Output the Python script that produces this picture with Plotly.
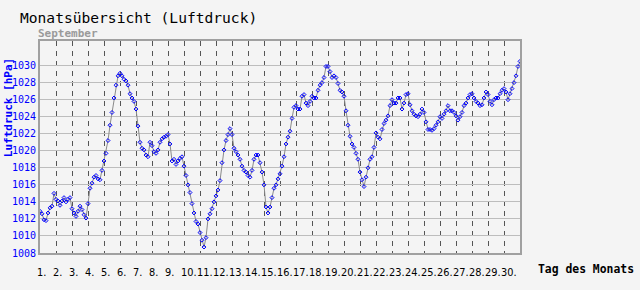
import plotly.graph_objects as go

# Pressure readings every 3 hours (day offset 0 = 1 Sept 00:00), hPa
step_days = 0.125
pressure_days_1_8 = [
    1012.9, 1012.6, 1011.9, 1011.8, 1012.7, 1013.3, 1013.5, 1015.0,
    1014.3, 1014.1, 1013.6, 1014.1, 1014.5, 1014.0, 1014.3, 1014.5,
    1013.2, 1012.7, 1012.3, 1012.9, 1013.5, 1013.1, 1012.5, 1012.1,
    1013.8, 1015.6, 1016.2, 1016.9, 1017.1, 1016.7, 1016.6, 1017.7,
    1018.8, 1019.7, 1021.2, 1023.0, 1024.5, 1026.2, 1027.7, 1028.8,
    1029.1, 1028.8, 1028.4, 1028.2, 1027.7, 1026.7, 1026.2, 1025.8,
    1024.9, 1022.9, 1021.0, 1020.3, 1020.1, 1019.5, 1019.3, 1021.0,
    1020.6, 1019.9, 1019.7, 1020.1,
]
pressure_days_8_15 = [
    1021.0, 1021.4, 1021.6, 1021.7, 1021.9, 1020.8, 1018.8, 1019.0,
    1018.4, 1018.8, 1019.1, 1019.3, 1018.2, 1017.1, 1016.0, 1015.1,
    1013.8, 1012.7, 1011.7, 1011.4, 1010.4, 1009.5, 1008.7, 1009.8,
    1012.0, 1012.6, 1013.2, 1014.0, 1014.7, 1015.4, 1016.5, 1018.6,
    1020.1, 1021.2, 1021.9, 1022.6, 1021.9, 1020.3, 1019.9, 1019.5,
    1019.0, 1018.2, 1017.7, 1017.5, 1017.1, 1016.9, 1017.7, 1019.0,
    1019.5, 1019.5, 1018.6, 1017.5, 1016.0, 1013.4, 1012.7, 1013.4,
    1014.5, 1015.6, 1016.0, 1016.7,
]
pressure_days_16_23 = [
    1017.3, 1018.2, 1019.3, 1020.8, 1021.6, 1022.3, 1023.8, 1025.1,
    1025.3, 1024.9, 1024.9, 1026.4, 1026.6, 1025.6, 1025.3, 1025.8,
    1026.4, 1026.2, 1026.2, 1027.1, 1027.7, 1028.0, 1028.6, 1029.9,
    1029.9, 1029.3, 1028.6, 1028.8, 1028.6, 1027.9, 1027.1, 1026.9,
    1026.4, 1024.7, 1023.0, 1021.7, 1020.8, 1020.4, 1019.7, 1019.0,
    1017.5, 1016.6, 1015.8, 1016.9, 1018.0, 1019.0, 1019.3, 1020.4,
    1022.1, 1021.6, 1021.4, 1022.5, 1023.2, 1023.6, 1024.1, 1025.3,
    1026.0, 1025.6, 1025.6, 1026.2,
]
pressure_days_23_30 = [
    1026.2, 1024.9, 1025.6, 1026.6, 1026.7, 1025.4, 1024.7, 1024.3,
    1024.1, 1024.0, 1024.3, 1024.9, 1024.5, 1023.4, 1022.5, 1022.5,
    1022.4, 1022.6, 1023.0, 1023.4, 1024.0, 1023.8, 1024.3, 1024.7,
    1025.3, 1024.7, 1024.7, 1024.5, 1024.1, 1023.6, 1024.0, 1024.5,
    1025.3, 1025.6, 1026.2, 1026.6, 1026.7, 1026.2, 1025.8, 1025.6,
    1025.3, 1025.4, 1026.2, 1026.9, 1026.6, 1025.8, 1025.4, 1026.0,
    1026.2, 1026.2, 1026.7, 1027.1, 1027.3, 1026.9, 1026.0, 1026.7,
    1027.3, 1028.0, 1028.8, 1029.9, 1030.5,
]
pressure = pressure_days_1_8 + pressure_days_8_15 + pressure_days_16_23 + pressure_days_23_30
days = [i * step_days for i in range(len(pressure))]

day_labels = [f"{d}." for d in range(1, 31)]
y_ticks = list(range(1008, 1031, 2))

# geometry (pixels)
L, R, T, B = 40, 520, 41, 265
W, H = 640, 290
px_per_day = (R - L) / 30.0
xtick_size = 9.8
digit_w = xtick_size * 0.636
dot_w = xtick_size * 0.318


def px(xp):
    return (xp - L) / (R - L)


def py(yp):
    return (B - yp) / (B - T)


def label_w(lbl):
    return sum(dot_w if c == "." else digit_w for c in lbl)


tick_pos = [i + (label_w(lbl) / 2 - 3) / px_per_day for i, lbl in enumerate(day_labels)]

fig = go.Figure()
fig.add_trace(go.Scatter(
    x=days, y=pressure, mode="lines+markers",
    line=dict(color="#8a8a8a", width=1),
    marker=dict(symbol="diamond-open", size=3, color="#0000ff", line=dict(color="#0000ff", width=1)),
    hoverinfo="skip", showlegend=False,
))

mono = "DejaVu Sans Mono"
fig.update_layout(
    width=W, height=H,
    margin=dict(l=L, r=W - R, t=T, b=H - B, pad=0),
    paper_bgcolor="#f4f4f4", plot_bgcolor="#f4f4f4",
    xaxis=dict(
        range=[0, 30], tickmode="array", tickvals=tick_pos, ticktext=day_labels,
        tickangle=0, showgrid=False, zeroline=False, ticks="", ticklen=0,
        ticklabelstandoff=9,
        tickfont=dict(family="DejaVu Sans", size=xtick_size, color="#000000"),
        showline=True, mirror=True, linecolor="#a0a0a0", linewidth=2,
        minor=dict(tickmode="array", tickvals=list(range(1, 30)), showgrid=True,
                   gridcolor="#555555", gridwidth=1, griddash="5px,5px", ticks=""),
    ),
    yaxis=dict(
        range=[1008, 1008 + (B - T) / 9.0], tickmode="array", tickvals=y_ticks,
        ticktext=[str(v) for v in y_ticks], showgrid=True, gridcolor="#bdbdbd",
        gridwidth=1, zeroline=False, ticks="", ticklen=0,
        tickfont=dict(family=mono, size=10, color="#0000ff"),
        showline=True, mirror=True, linecolor="#a0a0a0", linewidth=2,
    ),
    annotations=[
        dict(text="Monatsübersicht (Luftdruck)", xref="paper", yref="paper",
             x=px(19), y=py(16.5), xanchor="left", yanchor="middle", showarrow=False,
             borderpad=0, font=dict(family=mono, size=14.6, color="#000000")),
        dict(text="<b>September</b>", xref="paper", yref="paper",
             x=px(37), y=py(33), xanchor="left", yanchor="middle", showarrow=False,
             borderpad=0, font=dict(family=mono, size=11, color="#9a9a9a")),
        dict(text="<b>Tag des Monats</b>", xref="paper", yref="paper",
             x=px(536), y=py(282), xanchor="left", yanchor="middle", showarrow=False,
             font=dict(family=mono, size=11.4, color="#000000")),
        dict(text="<b>Luftdruck [hPa]</b>", xref="paper", yref="paper",
             x=px(8), y=py(112), xanchor="center", yanchor="middle", showarrow=False,
             textangle=-90, font=dict(family=mono, size=11, color="#0000ff")),
    ],
)

fig.write_html("out.html")
